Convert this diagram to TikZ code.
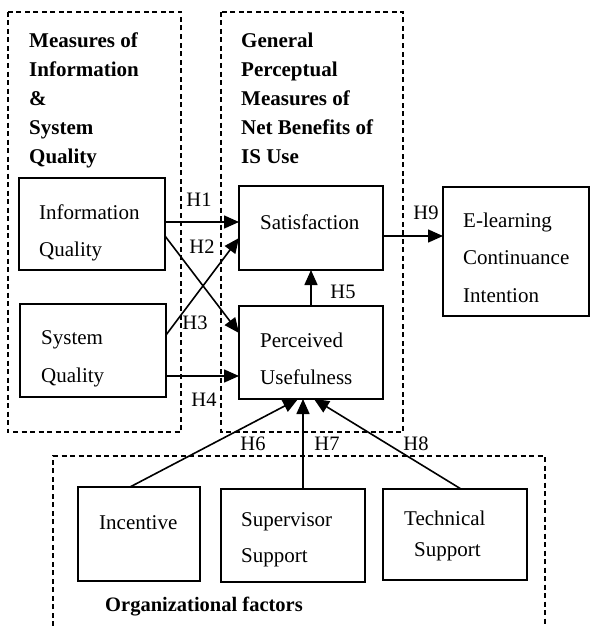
\documentclass[tikz,border=0pt]{standalone}
\usepackage{fontspec}
\setmainfont{Liberation Serif}
\usetikzlibrary{arrows.meta}
\begin{document}
\begin{tikzpicture}[x=1pt,y=-1pt,
  box/.style={draw, line width=1.6pt, inner sep=0pt, outer sep=0pt},
  grp/.style={draw, line width=1.5pt, dash pattern=on 5pt off 3.5pt},
  arr/.style={line width=1.6pt, -{Triangle[length=15pt,width=13pt]}},
  txt/.style={anchor=north west, inner sep=0pt, align=left, font=\fontsize{21}{37.5}\selectfont},
  ttl/.style={anchor=north west, inner sep=0pt, align=left, font=\fontsize{21}{29}\selectfont\bfseries},
  hl/.style={inner sep=0pt, font=\fontsize{20.5}{24}\selectfont}]
\useasboundingbox (0,0) rectangle (590,626);
\fill[white] (0,0) rectangle (590,626);
% dashed groups
\draw[grp] (8,12) rectangle (181,432);
\draw[grp] (221,12) rectangle (403,432);
\draw[grp] (53,626) -- (53,456) -- (545,456) -- (545,626);
% titles
\node[ttl] (t1) at (29,32.5) {Measures of\\Information\\\&\\System\\Quality};
\node[ttl] (t2) at (241,32.5) {General\\Perceptual\\Measures of\\Net Benefits of\\IS Use};
\node[anchor=west, inner sep=0pt, font=\fontsize{20.5}{24}\selectfont\bfseries] (t3) at (105,607) {Organizational factors};
% boxes
\node[box, minimum width=146pt, minimum height=92pt] (iq) at (92,224) {};
\node[box, minimum width=146pt, minimum height=93pt] (sq) at (93,350.5) {};
\node[box, minimum width=144pt, minimum height=84pt] (sat) at (311,228) {};
\node[box, minimum width=144pt, minimum height=93pt] (pu) at (311,352.5) {};
\node[box, minimum width=146pt, minimum height=129pt] (el) at (516,251.5) {};
\node[box, minimum width=122pt, minimum height=94pt] (inc) at (139,534) {};
\node[box, minimum width=144pt, minimum height=93pt] (sup) at (293,535.5) {};
\node[box, minimum width=144pt, minimum height=91pt] (tec) at (455,534.5) {};
% box texts
\node[txt] (iqt) at (39,204.5) {Information\\Quality};
\node[txt] (sqt) at (41,330.5) {System\\Quality};
\node[txt] (satt) at (260,214.5) {Satisfaction};
\node[txt] (put) at (260,332.5) {Perceived\\Usefulness};
\node[txt] (elt) at (463,212.5) {E-learning\\Continuance\\Intention};
\node[txt] (inct) at (99,515.5) {Incentive};
\node[txt, font=\fontsize{21}{36}\selectfont] (supt) at (241,512.5) {Supervisor\\Support};
\node[txt] (tect1) at (404,510.5) {Technical};
\node[txt] (tect2) at (414,542.5) {Support};
% arrows
\draw[arr] ([yshift=2pt]iq.east) -- ([yshift=6pt]sat.west);
\draw[arr] ([yshift=-12pt]iq.east) -- ([yshift=19.5pt]pu.west);
\draw[arr] ([yshift=15.5pt]sq.east) -- ([yshift=-10pt]sat.west);
\draw[arr] ([yshift=-25.5pt]sq.east) -- ([yshift=-23.5pt]pu.west);
\draw[arr] (pu.north) -- (sat.south);
\draw[arr] ([yshift=-8pt]sat.east) -- ([yshift=15.5pt]el.west);
\draw[arr] ([xshift=-9pt]inc.north) -- ([xshift=-13pt]pu.south);
\draw[arr] ([xshift=10pt]sup.north) -- ([xshift=-8pt]pu.south);
\draw[arr] ([xshift=6pt]tec.north) -- ([xshift=3pt]pu.south);
% hypothesis labels
\node[hl] (h1) at (199,200) {H1};
\node[hl] (h2) at (202,247) {H2};
\node[hl] (h3) at (195,323) {H3};
\node[hl] (h4) at (204,400) {H4};
\node[hl] (h5) at (343,292) {H5};
\node[hl] (h6) at (253,444) {H6};
\node[hl] (h7) at (327,444) {H7};
\node[hl] (h8) at (416,444) {H8};
\node[hl] (h9) at (426,213) {H9};
\end{tikzpicture}
\end{document}
